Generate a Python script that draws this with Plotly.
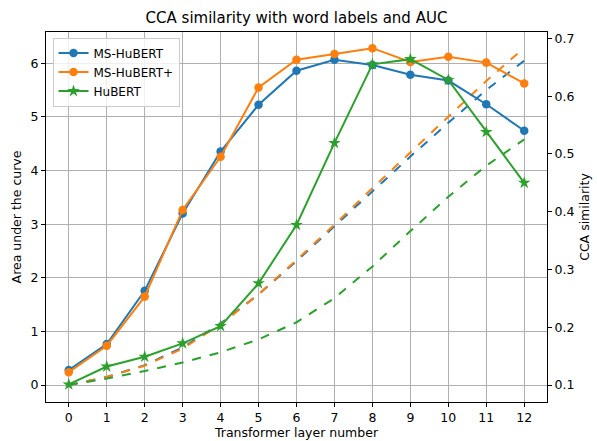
import plotly.graph_objects as go

layers = list(range(13))

cca_ms_hubert = [0.126, 0.171, 0.263, 0.397, 0.504, 0.585, 0.644, 0.663, 0.654, 0.637, 0.627, 0.586, 0.540]
cca_ms_hubert_plus = [0.122, 0.168, 0.253, 0.403, 0.495, 0.615, 0.663, 0.673, 0.683, 0.659, 0.668, 0.658, 0.622]
cca_hubert = [0.101, 0.132, 0.149, 0.172, 0.202, 0.276, 0.377, 0.519, 0.655, 0.664, 0.628, 0.538, 0.450]

auc_ms_hubert = [0.0, 0.15, 0.37, 0.70, 1.15, 1.69, 2.31, 2.96, 3.62, 4.26, 4.89, 5.50, 6.05]
auc_ms_hubert_plus = [0.0, 0.15, 0.36, 0.68, 1.13, 1.69, 2.33, 2.99, 3.67, 4.34, 5.00, 5.67, 6.29]
auc_hubert = [0.0, 0.12, 0.26, 0.42, 0.61, 0.85, 1.17, 1.62, 2.21, 2.87, 3.51, 4.09, 4.58]

names = ["MS-HuBERT", "MS-HuBERT+", "HuBERT"]
colors = ["#1f77b4", "#ff7f0e", "#2ca02c"]
symbols = ["circle", "circle", "star"]
msizes = [8.5, 8.5, 9.5]

fig = go.Figure()

for auc, c in zip([auc_ms_hubert, auc_ms_hubert_plus, auc_hubert], colors):
    fig.add_trace(go.Scatter(x=layers, y=auc, mode="lines", yaxis="y",
                             line=dict(color=c, width=2, dash="dash"),
                             showlegend=False, hoverinfo="skip"))

for cca, n, c, s, ms in zip([cca_ms_hubert, cca_ms_hubert_plus, cca_hubert], names, colors, symbols, msizes):
    fig.add_trace(go.Scatter(x=layers, y=cca, mode="lines+markers", name=n, yaxis="y2",
                             line=dict(color=c, width=2),
                             marker=dict(color=c, symbol=s, size=ms, line=dict(width=0))))

axis_font = dict(family="DejaVu Sans", size=12.5, color="black")

fig.update_layout(
    width=597, height=441,
    margin=dict(l=46, r=50, t=32, b=39, autoexpand=False),
    paper_bgcolor="white", plot_bgcolor="white",
    font=dict(family="DejaVu Sans", size=12.5, color="black"),
    title=dict(text="CCA similarity with word labels and AUC", x=0.5, xanchor="center",
               xref="paper", y=0.96, yanchor="middle", font=dict(size=15, color="black")),
    xaxis=dict(range=[-0.6, 12.6], tickmode="array", tickvals=layers, ticktext=[str(l) for l in layers],
               showgrid=True, gridcolor="#b0b0b0", gridwidth=0.8, zeroline=False, automargin=False,
               showline=True, linecolor="black", linewidth=1, mirror=True,
               ticks="outside", ticklen=4, tickcolor="black", tickfont=axis_font,
               title=dict(text="Transformer layer number", font=axis_font, standoff=2)),
    yaxis=dict(range=[-0.317, 6.583], tickmode="array", tickvals=[0, 1, 2, 3, 4, 5, 6],
               showgrid=True, gridcolor="#b0b0b0", gridwidth=0.8, zeroline=False, automargin=False,
               showline=True, linecolor="black", linewidth=1,
               ticks="outside", ticklen=4, tickcolor="black", tickfont=axis_font,
               title=dict(text="Area under the curve", font=axis_font, standoff=6)),
    yaxis2=dict(range=[0.0706, 0.711], overlaying="y", side="right", automargin=False,
                tickmode="array", tickvals=[0.1, 0.2, 0.3, 0.4, 0.5, 0.6, 0.7],
                ticktext=["0.1", "0.2", "0.3", "0.4", "0.5", "0.6", "0.7"],
                showgrid=False, zeroline=False,
                showline=True, linecolor="black", linewidth=1,
                ticks="outside", ticklen=4, tickcolor="black", tickfont=axis_font,
                title=dict(text="CCA similarity", font=axis_font, standoff=6)),
    legend=dict(x=0.013, y=0.985, xanchor="left", yanchor="top",
                bgcolor="rgba(255,255,255,0.8)", bordercolor="#cccccc", borderwidth=1,
                font=dict(family="DejaVu Sans", size=12, color="black"),
                tracegroupgap=0, itemwidth=30),
    showlegend=True,
)

fig.write_html("out.html", config={"displayModeBar": False},
               post_script="document.body.style.margin='0px';document.body.style.overflow='hidden';")
